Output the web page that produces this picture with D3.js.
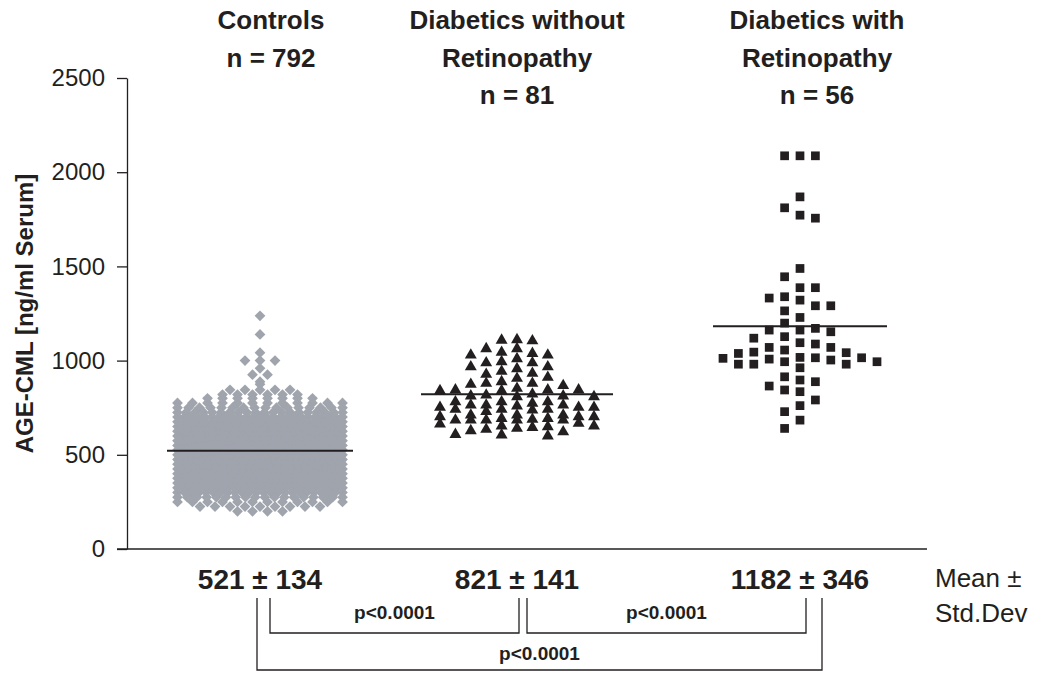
<!DOCTYPE html>
<html>
<head>
<meta charset="utf-8">
<script src="https://cdn.jsdelivr.net/npm/d3@7"></script>
<style>
  html, body { margin: 0; padding: 0; background: #fff; }
  svg text { font-family: "Liberation Sans", Arial, Helvetica, sans-serif; fill: #231f20; }
</style>
</head>
<body>
<div id="chart"></div>
<script>
// values
const groups = ["Controls", "Diabetics without Retinopathy", "Diabetics with Retinopathy"];
const headers = [["Controls", "n = 792"], ["Diabetics without", "Retinopathy", "n = 81"], ["Diabetics with", "Retinopathy", "n = 56"]];
const means = [521, 821, 1182];
const stdDevs = [134, 141, 346];
const yTicks = [0, 500, 1000, 1500, 2000, 2500];

// controls: too dense to read one by one, so rows of (value, count)
const controlValues = [1238, 1139, 1042, 1000, 959, 925, 888, 875, 845, 820, 800,
  775, 750, 725, 700, 675, 650, 625, 600, 575, 550, 525, 500, 475, 450, 425, 400,
  375, 350, 325, 300, 275, 250, 225, 200];
const controlCounts = [1, 1, 1, 3, 1, 2, 1, 1, 5, 6, 8,
  12, 16, 20, 25, 30, 36, 40, 44, 46, 48, 50, 50, 48, 46, 43, 40,
  37, 34, 30, 24, 18, 12, 9, 4];

const withoutRetinopathy = [1111, 1105, 1108, 1063, 1063, 1044, 1029, 1010, 1029, 1038,
  967, 943, 988, 988, 994, 957, 967, 927, 888, 906, 911, 932,
  879, 867, 844, 840, 844, 853, 874, 879, 844,
  812, 808, 822, 808, 840, 812, 817,
  781, 741, 693, 649, 781, 741, 693, 645, 773, 737, 711, 684, 635,
  764, 711, 684, 622, 752, 702, 667, 608, 752, 663, 600, 702, 653,
  752, 684, 605, 711, 759, 684, 628, 729, 764, 684, 741,
  764, 688, 641, 781, 702, 653];

const withRetinopathy = [2087, 2087, 2087, 1869, 1811, 1756, 1772, 1489, 1445, 1387, 1387,
  1339, 1321, 1332, 1291, 1291, 1264, 1229, 1199, 1162, 1153, 1162, 1171,
  1127, 1119, 1095, 1070, 1070, 1088, 1056, 1045, 1038, 1015, 1012, 981,
  1003, 962, 994, 994, 981, 1008, 981, 1015, 1017, 1042,
  897, 865, 914, 844, 888, 835, 791, 761, 729, 684, 640];

const comparisons = [[0, 1], [1, 2], [0, 2]];
const pLabels = ["p<0.0001", "p<0.0001", "p<0.0001"];

const W = 1052, H = 675;
const svg = d3.select("#chart").append("svg")
  .attr("width", W)
  .attr("height", H);

const y = d3.scaleLinear().domain([0, 2500]).range([549, 78]);
const x = d3.scaleOrdinal().domain(groups).range([260, 517, 800]);

// axes
const yAxis = svg.append("g")
  .attr("transform", "translate(127,0)")
  .call(d3.axisLeft(y).tickValues(yTicks).tickFormat(d3.format("d"))
    .tickSize(10).tickPadding(12).tickSizeOuter(0));
yAxis.select(".domain").attr("stroke", "#231f20").attr("stroke-width", 1.3);
yAxis.selectAll(".tick line").attr("stroke", "#231f20").attr("stroke-width", 1.3);
yAxis.selectAll(".tick text")
  .attr("font-size", 24)
  .attr("fill", "#231f20")
  .style("font-family", "Liberation Sans, Arial, sans-serif");

svg.append("line")
  .attr("x1", 117).attr("x2", 927)
  .attr("y1", y(0)).attr("y2", y(0))
  .attr("stroke", "#231f20").attr("stroke-width", 1.3);

svg.append("text")
  .attr("transform", "translate(33," + y(1250) + ") rotate(-90)")
  .attr("text-anchor", "middle")
  .attr("font-size", 24)
  .attr("font-weight", "bold")
  .text("AGE-CML [ng/ml Serum]");

// headers
const headerDx = [11, 0, 17];
headers.forEach((lines, i) => {
  lines.forEach((t, j) => {
    svg.append("text")
      .attr("x", x(groups[i]) + headerDx[i])
      .attr("y", 29 + j * 37.5)
      .attr("text-anchor", "middle")
      .attr("font-size", 26)
      .attr("font-weight", "bold")
      .text(t);
  });
});

// controls: each row spread evenly, squeezed when it gets too wide
const ctrlPts = [];
controlValues.forEach((v, i) => {
  const n = controlCounts[i];
  const step = n > 1 ? Math.min(15, 165 / (n - 1)) : 0;
  for (let k = 0; k < n; k++) {
    ctrlPts.push({ v: v, dx: (k - (n - 1) / 2) * step });
  }
});

// sparse groups: greedy column packing, max columns each side
function swarm(values, colStep, minDy, maxC) {
  const pts = values.map(v => ({ v: v, py: y(v) })).sort((a, b) => a.py - b.py);
  const cols = new Map();
  const order = [0];
  for (let c = 1; c <= maxC; c++) order.push(-c, c);
  pts.forEach(p => {
    let best = null, bestGap = -1;
    for (const c of order) {
      const list = cols.get(c) || [];
      const gap = list.length ? d3.min(list, q => Math.abs(q - p.py)) : Infinity;
      if (gap >= minDy) { best = c; break; }
      if (gap > bestGap) { bestGap = gap; best = c; }
    }
    if (!cols.has(best)) cols.set(best, []);
    cols.get(best).push(p.py);
    p.dx = best * colStep;
  });
  return pts;
}

const diamond = d3.symbol().type(d3.symbolSquare).size(58);
svg.append("g").selectAll("path")
  .data(ctrlPts)
  .join("path")
  .attr("d", diamond)
  .attr("transform", d => "translate(" + (x(groups[0]) + d.dx) + "," + y(d.v) + ") rotate(45)")
  .attr("fill", "#a0a4ad");

const tri = d3.symbol().type(d3.symbolTriangle).size(62);
svg.append("g").selectAll("path")
  .data(swarm(withoutRetinopathy, 15.4, 9, 5))
  .join("path")
  .attr("d", tri)
  .attr("transform", d => "translate(" + (x(groups[1]) + d.dx) + "," + y(d.v) + ")")
  .attr("fill", "#231f20");

const sq = d3.symbol().type(d3.symbolSquare).size(76);
svg.append("g").selectAll("path")
  .data(swarm(withRetinopathy, 15.4, 11, 5))
  .join("path")
  .attr("d", sq)
  .attr("transform", d => "translate(" + (x(groups[2]) + d.dx) + "," + y(d.v) + ")")
  .attr("fill", "#231f20");

// mean lines
const halfW = [93, 96, 87];
svg.append("g").selectAll("line")
  .data(means)
  .join("line")
  .attr("x1", (d, i) => x(groups[i]) - halfW[i])
  .attr("x2", (d, i) => x(groups[i]) + halfW[i])
  .attr("y1", d => y(d))
  .attr("y2", d => y(d))
  .attr("stroke", "#231f20")
  .attr("stroke-width", 2);

// mean ± sd under the axis
svg.append("g").selectAll("text")
  .data(means)
  .join("text")
  .attr("x", (d, i) => x(groups[i]))
  .attr("y", 589)
  .attr("text-anchor", "middle")
  .attr("font-size", 28)
  .attr("font-weight", "bold")
  .text((d, i) => d + " \u00b1 " + stdDevs[i]);

svg.append("text").attr("x", 935).attr("y", 587).attr("font-size", 26).text("Mean \u00b1");
svg.append("text").attr("x", 935).attr("y", 622).attr("font-size", 26).text("Std.Dev");

// significance brackets
const brk = [
  { x1: x(groups[0]) + 10, x2: x(groups[1]) + 2, top: 598, bot: 633, ly: 619 },
  { x1: x(groups[1]) + 10, x2: x(groups[2]) + 6, top: 598, bot: 633, ly: 619 },
  { x1: x(groups[0]) - 3, x2: x(groups[2]) + 22, top: 598, bot: 670, ly: 660 }
];
comparisons.forEach((c, i) => {
  const b = brk[i];
  svg.append("path")
    .attr("d", "M" + b.x1 + "," + b.top + "V" + b.bot + "H" + b.x2 + "V" + b.top)
    .attr("fill", "none")
    .attr("stroke", "#231f20")
    .attr("stroke-width", 1.3);
  svg.append("text")
    .attr("x", (b.x1 + b.x2) / 2)
    .attr("y", b.ly)
    .attr("text-anchor", "middle")
    .attr("font-size", 19)
    .attr("font-weight", "bold")
    .text(pLabels[i]);
});
</script>
</body>
</html>
